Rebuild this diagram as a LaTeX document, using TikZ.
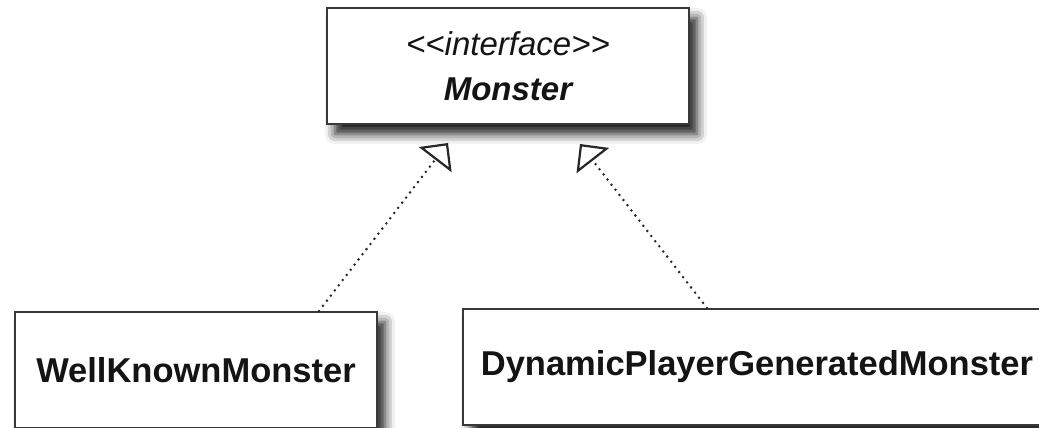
\documentclass[tikz,border=0pt]{standalone}
\usepackage{fontspec}
\setmainfont{Liberation Sans}
\usetikzlibrary{arrows.meta,shadows.blur,calc}
\definecolor{boxgray}{HTML}{383838}
\definecolor{inkgray}{HTML}{141414}
\begin{document}
\begin{tikzpicture}[x=1pt,y=-1pt,
  umlbox/.style={draw=boxgray, line width=2pt, fill=white, minimum height=116pt,
    inner sep=0pt, align=center, text=inkgray,
    blur shadow={shadow xshift=8pt, shadow yshift=-10pt, shadow blur radius=10pt, shadow opacity=90},
    font=\fontsize{33}{45}\selectfont},
  bigtext/.style={font=\fontsize{34.5}{45}\selectfont\bfseries},
  realize/.style={draw=black!85, line width=2.8pt, dash pattern=on 0pt off 6.5pt, line cap=round,
    -{Triangle[open,length=21pt,width=41pt,line width=2.2pt]}}]
\useasboundingbox (0,0) rectangle (1039,428);
\clip (0,0) rectangle (1039,428);
\node[umlbox, minimum width=362pt] (monster) at (508,66)
  {\itshape {<}{<}interface{>}{>}\\\bfseries\itshape Monster};
\node[umlbox, bigtext, minimum width=362pt] (wk) at (196,370) {WellKnownMonster};
\node[umlbox, bigtext, minimum width=588pt] (dyn) at (757,367) {DynamicPlayerGeneratedMonster};
\coordinate (t1) at (448,143);
\coordinate (t2) at (580,144);
\draw[realize] ($(wk.north west)+(305,0)$) -- (t1);
\draw[realize] ($(dyn.north west)+(245,0)$) -- (t2);
\end{tikzpicture}
\end{document}
